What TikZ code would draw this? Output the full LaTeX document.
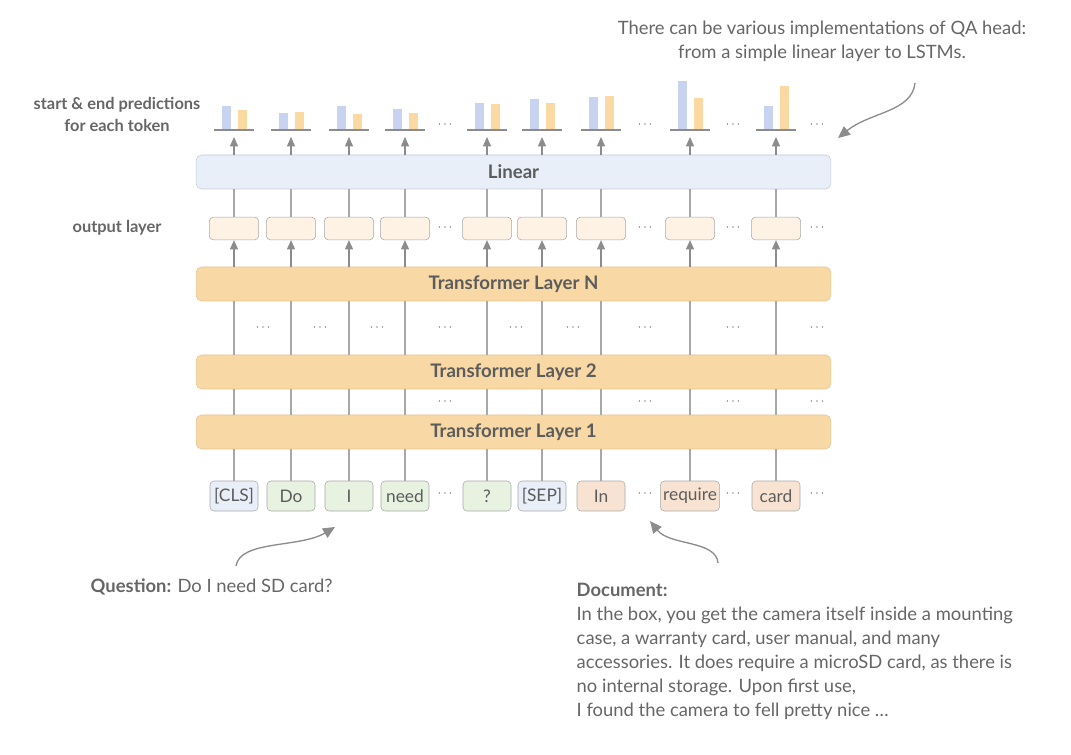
\documentclass[tikz,border=0pt]{standalone}
\usepackage{fontspec}
\setmainfont{Lato}
\usetikzlibrary{arrows.meta,positioning}
\definecolor{txtgray}{HTML}{666666}
\definecolor{linegray}{HTML}{A8A8A8}
\definecolor{tipgray}{HTML}{8C8C8C}
\definecolor{linfill}{HTML}{E9EFF9}
\definecolor{linedge}{HTML}{C5CCD8}
\definecolor{trfill}{HTML}{F8D9A6}
\definecolor{tredge}{HTML}{E6C48E}
\definecolor{outfill}{HTML}{FDF2E4}
\definecolor{clsfill}{HTML}{E9EFF9}
\definecolor{qfill}{HTML}{E7F2E0}
\definecolor{dfill}{HTML}{F8E3D2}
\definecolor{barblue}{HTML}{C8D3EF}
\definecolor{barorange}{HTML}{FAD9A2}

\begin{document}
\begin{tikzpicture}[x=0.75pt,y=-0.75pt,
  wide/.style={draw=#1,rounded corners=4pt,minimum width=476pt,minimum height=25.5pt,font=\fontsize{14}{16}\selectfont\bfseries,text=txtgray!90!black},
  outbox/.style={draw=linegray,fill=outfill,rounded corners=3pt,minimum width=37pt,minimum height=17pt},
  tok/.style={draw=linegray,rounded corners=3pt,minimum width=36pt,minimum height=22.5pt,inner sep=2pt,font=\fontsize{13}{15}\selectfont,text=txtgray!90!black},
  conn/.style={draw=linegray,line width=1pt},
  up/.style={conn,draw=tipgray,-{Triangle[length=7pt,width=6pt]}},
  curv/.style={conn,draw=tipgray,-{Triangle[length=9pt,width=8pt]}},
  note/.style={text=txtgray,font=\fontsize{13.8}{18}\selectfont},
  side/.style={text=txtgray,font=\fontsize{12.3}{16.5}\selectfont\bfseries,align=center},
  dots/.style={text=txtgray!80!black,font=\small,inner sep=0pt}]
\useasboundingbox (0,0) rectangle (1071,755);

% big blocks
\node[wide=linedge,fill=linfill] (lin) at (513.5,172) {Linear};
\node[wide=tredge,fill=trfill] (ln) at (513.5,284) {Transformer Layer N};
\node[wide=tredge,fill=trfill] (l2) at (513.5,372) {Transformer Layer 2};
\node[wide=tredge,fill=trfill] (l1) at (513.5,432) {Transformer Layer 1};

% tokens, output boxes and vertical links
\foreach \x/\w/\f/\hb/\ho [count=\i] in {234/{[CLS]}/clsfill/24/20, 291/Do/qfill/17/18, 349/I/qfill/24/16, 405/need/qfill/21/17,
    487/?/qfill/27/26, 542/{[SEP]}/clsfill/31/27, 601/In/dfill/33/34, 690/require/dfill/49/32, 776/card/dfill/24/44}{
  \node[tok,fill=\f] (t\i) at (\x,496) {\w};
  \node[outbox] (o\i) at (\x,228.5) {};
  \coordinate (p\i) at (\x,137);
  \draw[conn] (t\i) -- (t\i |- l1.south);
  \draw[conn] (l1.north -| t\i) -- (l2.south -| t\i);
  \draw[conn] (l2.north -| t\i) -- (ln.south -| t\i);
  \draw[up] (ln.north -| t\i) -- (o\i);
  \draw[conn] (o\i) -- (o\i |- lin.south);
  \draw[up] (lin.north -| t\i) -- (p\i);
  % start / end bars
  \fill[barblue] (\x-12,130) rectangle (\x-3,130-\hb);
  \fill[barorange] (\x+4,130) rectangle (\x+13,130-\ho);
  \draw[tipgray,line width=1.5pt] (\x-20,130) -- (\x+20,130);
}

% dots
\foreach \y [count=\r] in {125,228,402,494}{
  \foreach \x [count=\i] in {445,645,733,817}
    \node[dots] (d\r\i) at (\x,\y) {$\cdots$};
}
\foreach \x [count=\i] in {263,320,377,445,516,573,645,733,817}
  \node[dots] (m\i) at (\x,328) {$\cdots$};

% side labels
\node[side] (pred) at (117,114) {start \& end predictions\\for each token};
\node[side] (outl) at (117,228) {output layer};

% notes
\node[note,align=center] (qa) at (822,41) {There can be various implementations of QA head:\\from a simple linear layer to LSTMs.};
\node[note,anchor=west] (qst) at (86,587) {\textbf{Question:} Do I need SD card?};
\node[note,anchor=north west,align=left] (doc) at (572,578) {\textbf{Document:}\\In the box, you get the camera itself inside a mounting\\case, a warranty card, user manual, and many\\accessories. It does require a microSD card, as there is\\no internal storage. Upon first use,\\I found the camera to fell pretty nice \ldots};

% curved pointers
\coordinate (qaS) at (915,83);
\coordinate (qaE) at (838,138);
\coordinate (qS) at (236,566);
\coordinate (qE) at (335,527);
\coordinate (dS) at (718,563);
\coordinate (dE) at (650,521);
\draw[curv] (qaS) .. controls (912,112) and (870,112) .. (qaE);
\draw[curv] (qS) .. controls (240,540) and (300,548) .. (qE);
\draw[curv] (dS) .. controls (716,540) and (670,546) .. (dE);
\end{tikzpicture}
\end{document}
